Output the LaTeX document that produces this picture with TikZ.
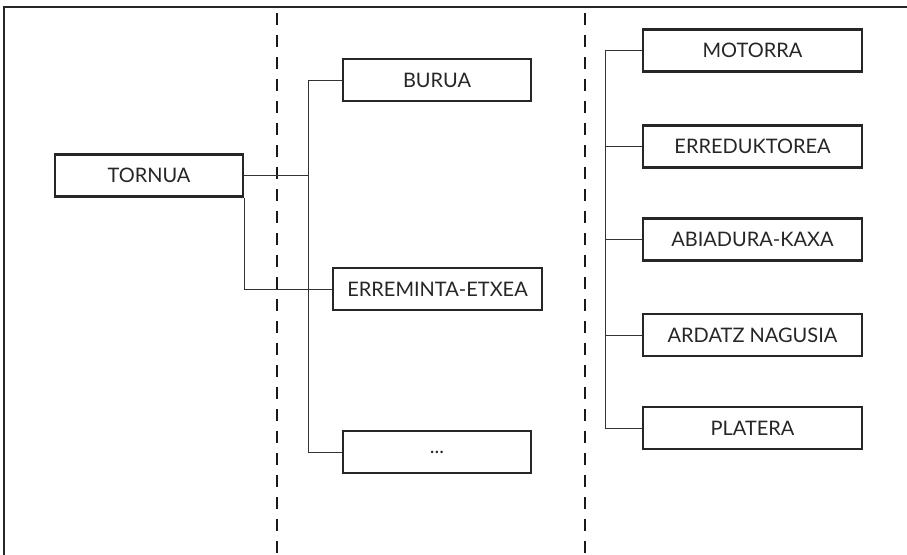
\documentclass[tikz,border=0pt]{standalone}
\usepackage{fontspec}
\setmainfont{Lato}
\begin{document}
\begin{tikzpicture}[x=1pt,y=-1pt,
  box/.style={draw=black!85, line width=2.4pt, minimum height=42pt, inner sep=0pt, font=\fontsize{20}{22}\selectfont, text=black!85},
  conn/.style={draw=black!80, line width=1pt},
  sep/.style={draw=black!90, line width=2.6pt, dash pattern=on 12pt off 10pt},
  frame/.style={draw=black!85, line width=1.3pt}]
\useasboundingbox (0,0) rectangle (907,554);
% frame
\draw[frame] (4,560) -- (4,7) -- (912,7);
% separators
\draw[sep] (277,13) -- (277,560);
\draw[sep] (585,13) -- (585,560);
% boxes
\node[box, minimum width=188pt] (tornua) at (149,175.5) {TORNUA};
\node[box, minimum width=188pt] (burua) at (437,80) {BURUA};
\node[box, minimum width=209pt] (errem) at (437.5,289) {ERREMINTA-ETXEA};
\node[box, minimum width=188pt] (dots) at (437,452) {...};
\node[box, minimum width=219pt] (motor) at (752.5,50.5) {MOTORRA};
\node[box, minimum width=219pt] (erred) at (752.5,146.5) {ERREDUKTOREA};
\node[box, minimum width=219pt] (abiad) at (752.5,239.5) {ABIADURA-KAXA};
\node[box, minimum width=219pt] (ardatz) at (752.5,335) {ARDATZ NAGUSIA};
\node[box, minimum width=219pt] (plat) at (752.5,428) {PLATERA};
% left tree
\coordinate (bus1) at (308,175.5);
\draw[conn] (tornua.east) -- (bus1);
\draw[conn] (burua.west) -| (308,452) -- (dots.west);
\draw[conn] (tornua.south east) |- (errem.west);
% right tree
\draw[conn] (motor.west) -| (605,428) -- (plat.west);
\draw[conn] (erred.west) -- (605,146.5);
\draw[conn] (abiad.west) -- (605,239.5);
\draw[conn] (ardatz.west) -- (605,335);
\end{tikzpicture}
\end{document}
